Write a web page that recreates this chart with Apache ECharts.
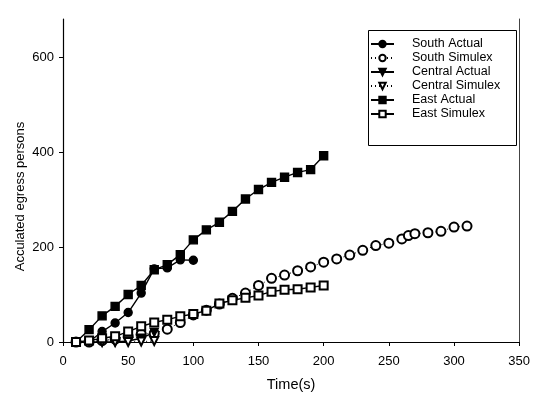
<!DOCTYPE html>
<html>
<head>
<meta charset="utf-8">
<script src="https://cdn.jsdelivr.net/npm/echarts@6/dist/echarts.min.js"></script>
<style>
  html, body { margin: 0; padding: 0; background: #fff; }
  #chart { width: 533px; height: 399px; }
</style>
</head>
<body>
<div id="chart"></div>
<script>
// data (time in s, persons)
const southActualT = [20, 30, 40, 50, 60, 70, 80, 90, 100];
const southActual  = [0, 22, 40, 62, 103, 154, 156, 173, 172];

const southSimT = [10, 20, 30, 40, 50, 60, 70, 80, 90, 100, 110, 120, 130, 140, 150, 160, 170, 180, 190, 200, 210, 220, 230, 240, 250, 260, 265, 270, 280, 290, 300, 310];
const southSim  = [0, 0, 3, 6, 12, 17, 18, 27, 41, 57, 67, 80, 92, 103, 119, 134, 141, 150, 158, 168, 175, 183, 193, 203, 208, 217, 224, 228, 230, 233, 242, 244];

const centralActualT = [20, 30, 40, 50, 60, 70];
const centralActual  = [0, 0, 0, 2, 8, 20];

const centralSimT = [30, 40, 50, 60, 70];
const centralSim  = [0, 0, 0, 1, 2];

const eastActualT = [10, 20, 30, 40, 50, 60, 70, 80, 90, 100, 110, 120, 130, 140, 150, 160, 170, 180, 190, 200];
const eastActual  = [0, 26, 55, 75, 100, 119, 152, 163, 184, 215, 236, 252, 275, 301, 321, 336, 347, 357, 363, 392];

const eastSimT = [10, 20, 30, 40, 50, 60, 70, 80, 90, 100, 110, 120, 130, 140, 150, 160, 170, 180, 190, 200];
const eastSim  = [0, 3, 8, 12, 22, 33, 41, 47, 54, 59, 66, 81, 88, 93, 98, 106, 110, 111, 115, 119];

const yTicks = [0, 200, 400, 600];

function pairs(t, v) { return t.map((x, i) => [x, v[i]]); }

let chart = echarts.init(document.getElementById('chart'));

const font = 'Liberation Sans, Arial, sans-serif';

function line(name, t, v, symbol, size, dotted, rotate) {
  return {
    name: name,
    type: 'line',
    data: pairs(t, v),
    symbol: symbol,
    symbolSize: size,
    symbolRotate: rotate || 0,
    showAllSymbol: true,
    lineStyle: { color: '#000', width: dotted ? 1 : 1.4, type: dotted ? [1, 3] : 'solid' },
    itemStyle: { color: '#000', borderColor: '#000', borderWidth: 1.4 },
    emphasis: { disabled: true },
    animation: false
  };
}

let opt = {
  backgroundColor: '#fff',
  animation: false,
  grid: { left: 63, right: 11, top: 19, bottom: 57 },
  legend: {
    orient: 'vertical',
    left: 370,
    top: 37,
    padding: 0,
    itemGap: 0,
    itemWidth: 23,
    itemHeight: 8,
    textStyle: { fontFamily: font, fontSize: 12.5, color: '#000', lineHeight: 14, padding: [0, 0, 0, 13] },
    data: ['South Actual', 'South Simulex', 'Central Actual', 'Central Simulex', 'East Actual', 'East Simulex']
  },
  graphic: [{
    type: 'rect',
    left: 366, top: 28,
    shape: { width: 148, height: 115 },
    style: { fill: 'none', stroke: '#000', lineWidth: 1 },
    z: 10
  }],
  xAxis: {
    type: 'value',
    min: 0, max: 350, interval: 50,
    name: 'Time(s)',
    nameLocation: 'middle',
    nameGap: 35,
    nameTextStyle: { fontFamily: font, fontSize: 14.5, color: '#000' },
    axisLine: { lineStyle: { color: '#000', width: 1.2 } },
    axisTick: { show: true, length: 4, inside: false, lineStyle: { color: '#000' } },
    axisLabel: { fontFamily: font, fontSize: 13, color: '#000', margin: 13 },
    splitLine: { show: false }
  },
  yAxis: [{
    type: 'value',
    min: 0, max: 680, interval: 200,
    name: 'Acculated egress persons',
    nameLocation: 'middle',
    nameGap: 36,
    nameMoveOverlap: false,
    nameTextStyle: { fontFamily: font, fontSize: 13, color: '#000', padding: [0, 32, 0, 0] },
    axisLine: { show: true, lineStyle: { color: '#000', width: 1.2 } },
    axisTick: { show: true, length: 4, customValues: yTicks, lineStyle: { color: '#000' } },
    axisLabel: { fontFamily: font, fontSize: 13, color: '#000', margin: 9, customValues: yTicks },
    splitLine: { show: false }
  }, {
    type: 'value',
    position: 'right',
    min: 0, max: 680,
    axisLine: { show: true, lineStyle: { color: '#444', width: 1 } },
    axisTick: { show: false },
    axisLabel: { show: false },
    splitLine: { show: false }
  }],
  series: [
    line('South Actual', southActualT, southActual, 'circle', 8, false),
    line('South Simulex', southSimT, southSim, 'emptyCircle', 9, true),
    line('Central Actual', centralActualT, centralActual, 'triangle', 8, false, 180),
    line('Central Simulex', centralSimT, centralSim, 'emptyTriangle', 8, true, 180),
    line('East Actual', eastActualT, eastActual, 'rect', 8, false),
    line('East Simulex', eastSimT, eastSim, 'emptyRect', 8, false)
  ]
};
chart.setOption(opt);
</script>
</body>
</html>
